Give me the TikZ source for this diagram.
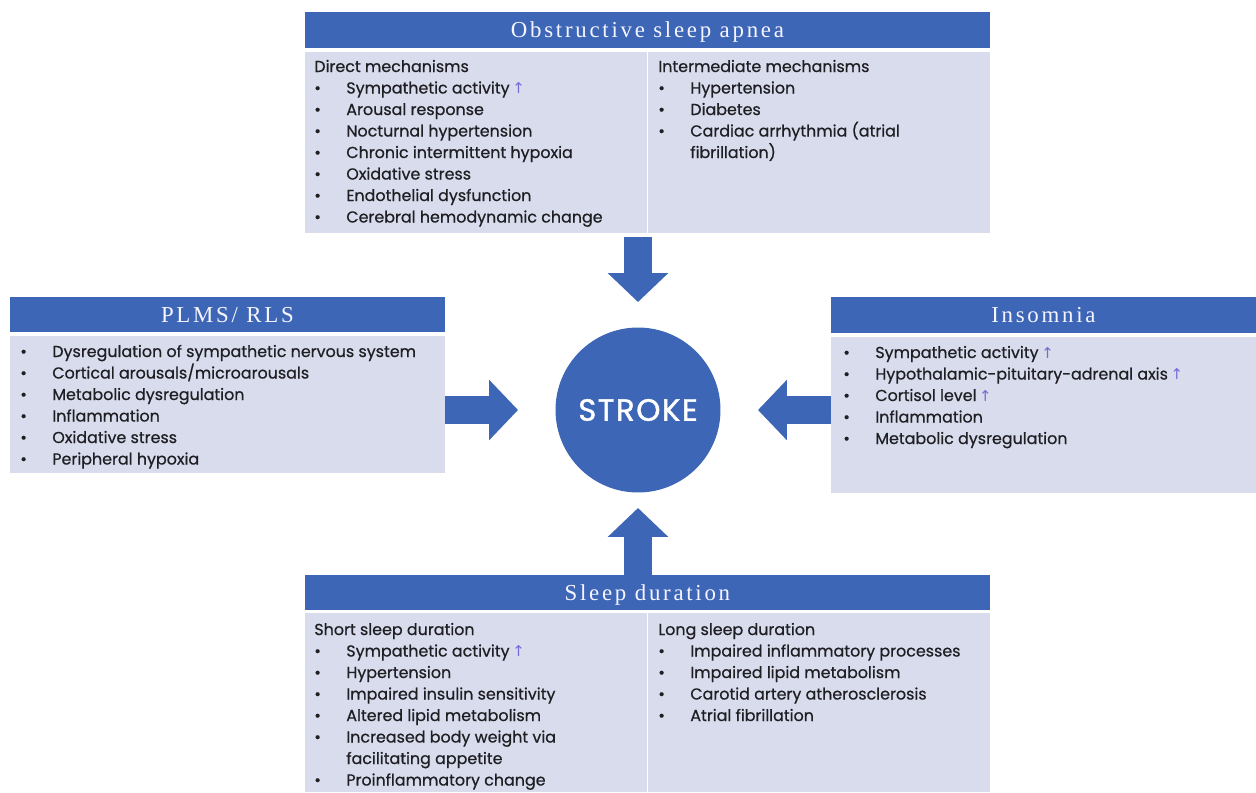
\documentclass[tikz,border=0pt]{standalone}
\usepackage{fontspec}
\setmainfont{Poppins}[UprightFeatures={FakeBold=0.6}]
\newfontfamily\titlefont[LetterSpace=12]{Liberation Serif}
\newfontfamily\strokefont[LetterSpace=5,UprightFeatures={FakeBold=1.2}]{Poppins}
\newfontfamily\symfont{DejaVu Sans}
\usetikzlibrary{arrows.meta}
\definecolor{hdrblue}{RGB}{62,102,182}
\definecolor{bodyfill}{RGB}{216,220,236}
\definecolor{txt}{RGB}{30,30,35}
\definecolor{upcol}{RGB}{120,105,215}
% bullet, continuation indent and the small rising arrow
\newcommand{\bul}{\makebox[0.64cm][l]{\textbullet}}
\newcommand{\nob}{\hspace*{0.64cm}}
\newcommand{\upar}{\,{\symfont\fontsize{8.5}{10}\selectfont\textcolor{upcol}{↑}}}
\begin{document}
\begin{tikzpicture}[x=0.02cm,y=-0.02cm,
  header/.style={fill=hdrblue, text=white!96!blue, inner sep=0, outer sep=0,
    text depth=0pt, anchor=north west, font=\titlefont\fontsize{13}{15}\selectfont},
  panel/.style={fill=bodyfill, inner sep=0, outer sep=0, anchor=north west},
  item/.style={anchor=base west, inner sep=0, text=txt,
    font=\fontsize{9.05}{11}\selectfont},
  divider/.style={draw=white, line width=0.035cm},
  bigarrow/.style={draw=hdrblue, line width=0.56cm,
    -{Triangle[width=1.18cm,length=0.58cm]}}]
\useasboundingbox (0,0) rectangle (1256,792);

% ---- Obstructive sleep apnea (top)
\node[header, minimum width=13.7cm, minimum height=0.72cm] (osahdr) at (305,12) {Obstructive sleep apnea};
\node[panel, minimum width=13.7cm, minimum height=3.62cm] (osabody) at (305,52) {};
\draw[divider] (osabody.north) -- (osabody.south);
\foreach \t [count=\i from 0] in {{Direct mechanisms},
  {\bul Sympathetic activity\upar}, {\bul Arousal response},
  {\bul Nocturnal hypertension}, {\bul Chronic intermittent hypoxia},
  {\bul Oxidative stress}, {\bul Endothelial dysfunction},
  {\bul Cerebral hemodynamic change}}
  \node[item] (osad\i) at (314,72+21.5*\i) {\t};
\foreach \t [count=\i from 0] in {{Intermediate mechanisms},
  {\bul Hypertension}, {\bul Diabetes},
  {\bul Cardiac arrhythmia (atrial}, {\nob fibrillation)}}
  \node[item] (osai\i) at (658,72+21.5*\i) {\t};

% ---- PLMS/ RLS (left)
\node[header, minimum width=8.7cm, minimum height=0.7cm] (plmshdr) at (10,297) {PLMS/ RLS};
\node[panel, minimum width=8.7cm, minimum height=2.74cm] (plmsbody) at (10,336) {};
\foreach \t [count=\i from 0] in {{\bul Dysregulation of sympathetic nervous system},
  {\bul Cortical arousals/microarousals}, {\bul Metabolic dysregulation},
  {\bul Inflammation}, {\bul Oxidative stress}, {\bul Peripheral hypoxia}}
  \node[item] (plms\i) at (20,357+21.5*\i) {\t};

% ---- Insomnia (right)
\node[header, minimum width=8.5cm, minimum height=0.72cm] (inshdr) at (831,297) {Insomnia};
\node[panel, minimum width=8.5cm, minimum height=3.12cm] (insbody) at (831,337) {};
\foreach \t [count=\i from 0] in {{\bul Sympathetic activity\upar},
  {\bul Hypothalamic-pituitary-adrenal axis\upar}, {\bul Cortisol level\upar},
  {\bul Inflammation}, {\bul Metabolic dysregulation}}
  \node[item] (ins\i) at (843,358+21.5*\i) {\t};

% ---- Sleep duration (bottom)
\node[header, minimum width=13.7cm, minimum height=0.7cm] (sdhdr) at (305,575) {Sleep duration};
\node[panel, minimum width=13.7cm, minimum height=3.58cm] (sdbody) at (305,613) {};
\draw[divider] (sdbody.north) -- (sdbody.south);
\foreach \t [count=\i from 0] in {{Short sleep duration},
  {\bul Sympathetic activity\upar}, {\bul Hypertension},
  {\bul Impaired insulin sensitivity}, {\bul Altered lipid metabolism},
  {\bul Increased body weight via}, {\nob facilitating appetite},
  {\bul Proinflammatory change}}
  \node[item] (sds\i) at (314,635+21.5*\i) {\t};
\foreach \t [count=\i from 0] in {{Long sleep duration},
  {\bul Impaired inflammatory processes}, {\bul Impaired lipid metabolism},
  {\bul Carotid artery atherosclerosis}, {\bul Atrial fibrillation}}
  \node[item] (sdl\i) at (658,635+21.5*\i) {\t};

% ---- centre
\node[circle, fill=hdrblue, minimum size=3.3cm, inner sep=0, outer sep=0,
  text=white, font=\strokefont\fontsize{17.5}{20}\selectfont] (stroke) at (638,410) {STROKE};

% ---- block arrows into the centre
\draw[bigarrow, shorten <=0.08cm, shorten >=0.51cm] (stroke.north |- osabody.south) -- (stroke.north);
\draw[bigarrow, shorten >=0.75cm] (stroke.west -| plmsbody.east) -- (stroke.west);
\draw[bigarrow, shorten >=0.75cm] (stroke.east -| insbody.west) -- (stroke.east);
\draw[bigarrow, shorten >=0.31cm] (stroke.south |- sdhdr.north) -- (stroke.south);
\end{tikzpicture}
\end{document}
